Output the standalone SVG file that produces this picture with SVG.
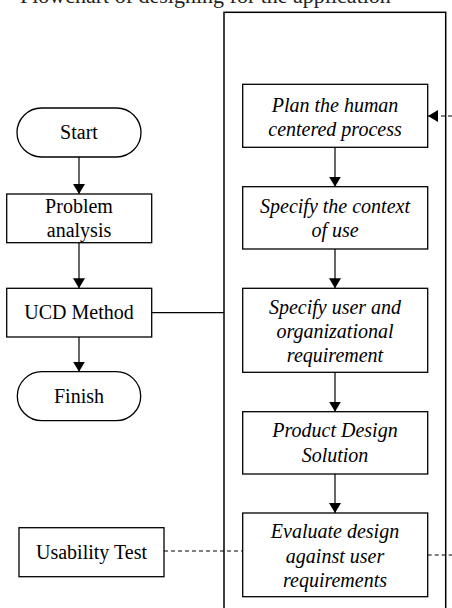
<svg xmlns="http://www.w3.org/2000/svg" width="452" height="608" viewBox="0 0 452 608">
<style>
.bx{fill:#fff;stroke:#000;stroke-width:1.3}
.t{font-family:"Liberation Serif","Times New Roman",serif;font-size:20px;fill:#000;text-anchor:middle}
.i{font-style:italic}
.ln{stroke:#000;stroke-width:1.2;fill:none}
.dash{stroke:#000;stroke-width:1;fill:none;stroke-dasharray:4 3}
</style>
<defs>
<marker id="ah" markerUnits="userSpaceOnUse" markerWidth="12" markerHeight="12" refX="10" refY="6" orient="auto">
<path d="M0,0 L10,6 L0,12 Z" fill="#000"/>
</marker>
</defs>
<rect width="452" height="608" fill="#fff"/>
<text x="20" y="2.5" style="font-family:'Liberation Serif',serif;font-size:22px;fill:#222">Flowchart of designing for the application</text>
<rect id="frame" x="224" y="12.3" width="221.7" height="610" fill="none" stroke="#000" stroke-width="1.5"/>
<g id="connectors">
<line class="ln" x1="79" y1="157" x2="79" y2="194" marker-end="url(#ah)"/>
<line class="ln" x1="79" y1="242.7" x2="79" y2="288.3" marker-end="url(#ah)"/>
<line class="ln" x1="79" y1="337" x2="79" y2="371.7" marker-end="url(#ah)"/>
<line class="ln" x1="151.7" y1="312.7" x2="224" y2="312.7"/>
<line class="ln" x1="335" y1="147.3" x2="335" y2="186.7" marker-end="url(#ah)"/>
<line class="ln" x1="335" y1="249" x2="335" y2="288.3" marker-end="url(#ah)"/>
<line class="ln" x1="335" y1="372.3" x2="335" y2="411.7" marker-end="url(#ah)"/>
<line class="ln" x1="335" y1="474" x2="335" y2="513" marker-end="url(#ah)"/>
<line class="dash" x1="164" y1="551" x2="243" y2="551"/>
<line class="dash" x1="427.7" y1="555" x2="452" y2="555"/>
<line class="dash" x1="452" y1="116" x2="428" y2="116" marker-end="url(#ah)"/>
</g>
<g id="start">
<rect class="bx" x="17" y="108" width="124" height="49" rx="24.5"/>
<text class="t" x="79" y="139">Start</text>
</g>
<g id="problem">
<rect class="bx" x="6.7" y="194" width="145" height="48.7"/>
<text class="t" x="79" y="213">Problem</text>
<text class="t" x="79" y="237">analysis</text>
</g>
<g id="ucd">
<rect class="bx" x="6.7" y="288.3" width="145" height="48.7"/>
<text class="t" x="79" y="319">UCD Method</text>
</g>
<g id="finish">
<rect class="bx" x="17.3" y="371.7" width="123.4" height="49" rx="24.5"/>
<text class="t" x="79" y="402.5">Finish</text>
</g>
<g id="usability">
<rect class="bx" x="19" y="527.7" width="145" height="49"/>
<text class="t" x="91.5" y="559">Usability Test</text>
</g>
<g id="plan">
<rect class="bx" x="242.7" y="84.3" width="185" height="63"/>
<text class="t i" x="335" y="111.5">Plan the human</text>
<text class="t i" x="335" y="135.5">centered process</text>
</g>
<g id="context">
<rect class="bx" x="242.7" y="186.7" width="185" height="62.3"/>
<text class="t i" x="335" y="213">Specify the context</text>
<text class="t i" x="335" y="237">of use</text>
</g>
<g id="requirement">
<rect class="bx" x="242.7" y="288.3" width="185" height="84"/>
<text class="t i" x="335" y="314">Specify user and</text>
<text class="t i" x="335" y="338">organizational</text>
<text class="t i" x="335" y="362">requirement</text>
</g>
<g id="product">
<rect class="bx" x="242.7" y="411.7" width="185" height="62.3"/>
<text class="t i" x="335" y="437">Product Design</text>
<text class="t i" x="335" y="462">Solution</text>
</g>
<g id="evaluate">
<rect class="bx" x="242.7" y="513" width="185" height="83.7"/>
<text class="t i" x="335" y="538">Evaluate design</text>
<text class="t i" x="335" y="563">against user</text>
<text class="t i" x="335" y="587">requirements</text>
</g>
</svg>
